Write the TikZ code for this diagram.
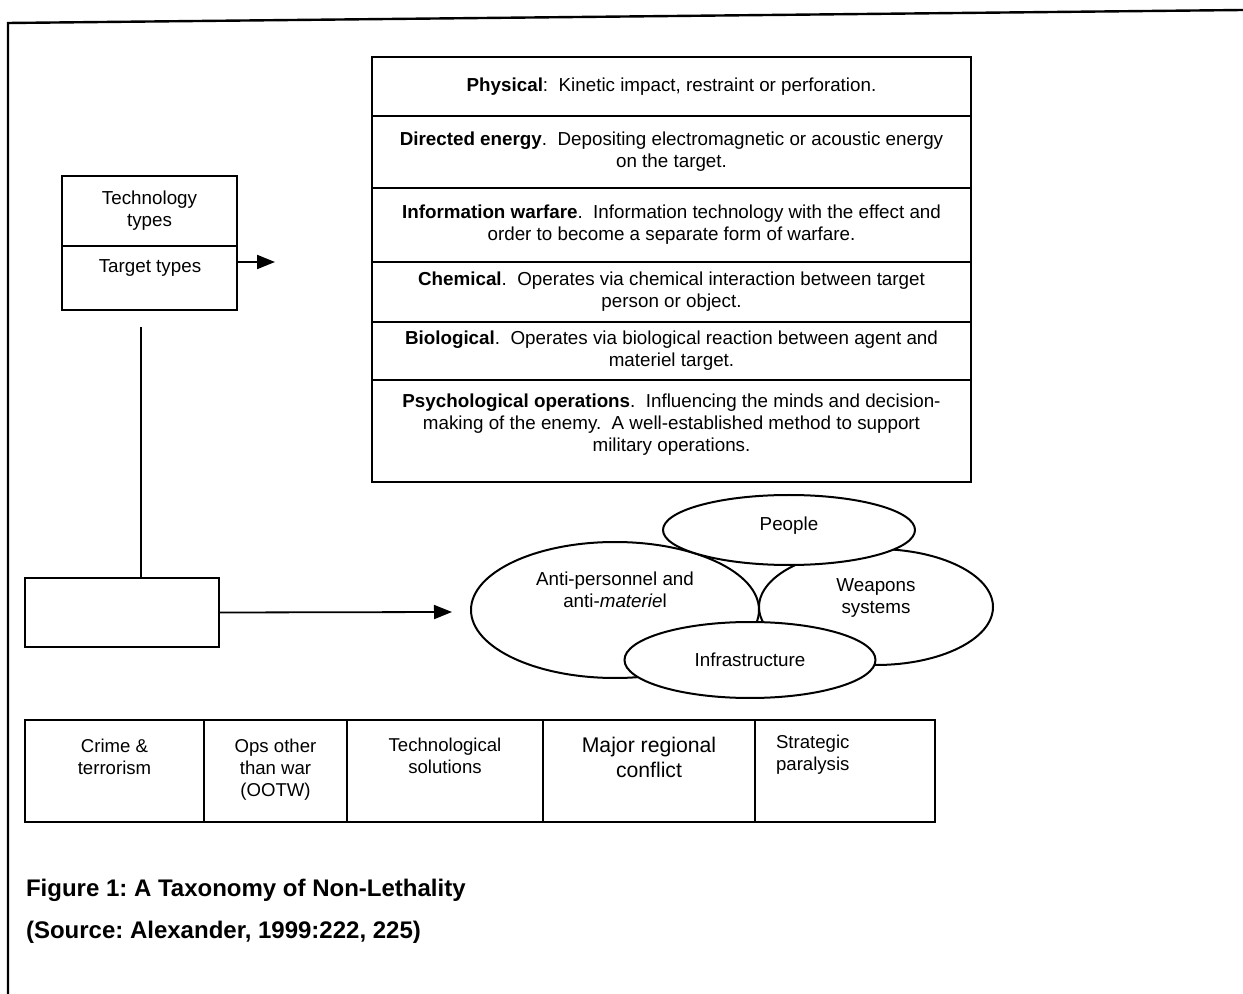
\documentclass[tikz,border=0pt]{standalone}
\usepackage{fontspec}
\setmainfont{Liberation Sans}
\usetikzlibrary{positioning, shapes.geometric, arrows.meta}
\frenchspacing

\begin{document}
\begin{tikzpicture}[x=0.5pt, y=-0.5pt, >={Triangle[length=9pt,width=7pt]},
  font=\fontsize{9.4}{11}\selectfont,
  row/.style={draw, line width=1.2pt, minimum width=299.5pt, align=center, inner sep=0pt, outer sep=0pt},
  box/.style={draw, line width=1pt, inner sep=0pt, outer sep=0pt},
  blob/.style={draw, ellipse, line width=1pt, align=center, inner sep=0pt},
  celltext/.style={align=center, font=\fontsize{9.3}{11}\selectfont}]
  \useasboundingbox (0,0) rectangle (1243,994);
  % frame
  \draw [line width=1.2pt] (8,994) -- (8,23) -- (1243,10);

  % technology types
  \node [row, minimum height=29.5pt] (phys) at (671.5,86.5) {\textbf{Physical}:\ \ Kinetic impact, restraint or perforation.};
  \node [row, minimum height=36pt, below=0pt of phys] (dir) {\textbf{Directed energy}.\ \ Depositing electromagnetic or acoustic energy\\on the target.};
  \node [row, minimum height=37pt, below=0pt of dir] (info) {\textbf{Information warfare}.\ \ Information technology with the effect and\\order to become a separate form of warfare.};
  \node [row, minimum height=30pt, below=0pt of info] (chem) {\textbf{Chemical}.\ \ Operates via chemical interaction between target\\person or object.};
  \node [row, minimum height=29pt, below=0pt of chem] (bio) {\textbf{Biological}.\ \ Operates via biological reaction between agent and\\materiel target.};
  \node [row, minimum height=51pt, below=0pt of bio] (psy) {};
  \node [align=center] (psyT) at (671.5,425) {\textbf{Psychological operations}.\ \ Influencing the minds and decision-\\making of the enemy.\ \ A well-established method to support\\military operations.};

  % left box
  \node [box, minimum width=87.5pt, minimum height=35pt, align=center] (tech) at (149.5,211) {Technology\\types};
  \node [box, minimum width=87.5pt, minimum height=32pt, below=0pt of tech] (targ) {};
  \node (targT) at (150,268) {Target types};
  \coordinate (targEnd) at (275,262);
  \draw [->, line width=1pt] (targ.east |- targEnd) -- (targEnd);

  \node [box, minimum width=97pt, minimum height=34.5pt] (blank) at (122,612.5) {};
  \coordinate (stem) at (141,327);
  \draw [line width=0.9pt] (stem) -- (stem |- blank.north);
  \coordinate (ringEnd) at (452,612);
  \draw [->, line width=0.9pt] (blank.east) -- (ringEnd);

  % target types
  \node [blob, minimum width=144pt, minimum height=68pt] (anti) at (615,610) {};
  \node (antiT) at (615,590) [align=center] {Anti-personnel and\\anti-\textit{materie}l};
  \node [blob, minimum width=117pt, minimum height=58pt] (weap) at (876,607) {};
  \node (weapT) at (876,598) [align=center] {Weapons\\systems};
  \node [blob, fill=white, minimum width=126pt, minimum height=35pt] (ppl) at (789,530) {};
  \node (pplT) at (789,526) {People};
  \node [blob, fill=white, minimum width=125.5pt, minimum height=38pt] (infra) at (750,660) {Infrastructure};

  % spectrum
  \node [box, line width=1.2pt, minimum width=89.5pt, minimum height=51pt] (c1) at (114.5,771) {};
  \node [box, line width=1.2pt, minimum width=71.5pt, minimum height=51pt, right=0pt of c1] (c2) {};
  \node [box, line width=1.2pt, minimum width=98pt, minimum height=51pt, right=0pt of c2] (c3) {};
  \node [box, line width=1.2pt, minimum width=106pt, minimum height=51pt, right=0pt of c3] (c4) {};
  \node [box, line width=1.2pt, minimum width=90pt, minimum height=51pt, right=0pt of c4] (c5) {};
  \node [celltext, below=6pt of c1.north] (c1T) {Crime \&\\terrorism};
  \node [celltext, below=6pt of c2.north] (c2T) {Ops other\\than war\\(OOTW)};
  \node [celltext, below=5.5pt of c3.north] (c3T) {Technological\\solutions};
  \node [celltext, font=\fontsize{10.6}{12.5}\selectfont, below=5pt of c4.north] (c4T) {Major regional\\conflict};
  \node [celltext, align=left, below right=4pt and 7pt of c5.north west] (c5T) {Strategic\\paralysis};

  % caption
  \node [anchor=west, font=\fontsize{12}{14}\selectfont\bfseries] (cap) at (19,890) {Figure 1: A Taxonomy of Non-Lethality};
  \node [anchor=west, font=\fontsize{12}{14}\selectfont\bfseries] (src) at (19,932) {(Source: Alexander, 1999:222, 225)};
\end{tikzpicture}
\end{document}
